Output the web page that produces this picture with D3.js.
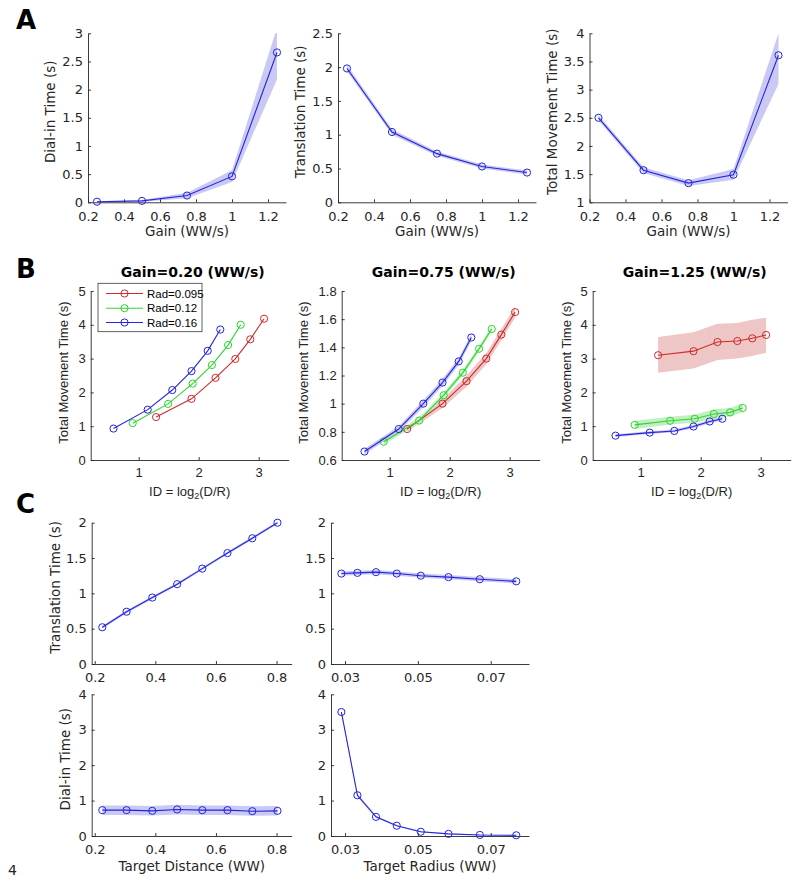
<!DOCTYPE html>
<html>
<head>
<meta charset="utf-8">
<script src="https://cdn.jsdelivr.net/npm/d3@7"></script>
<style>
  html, body { margin: 0; padding: 0; background: #fff; }
  svg { display: block; }
</style>
</head>
<body>
<script>
// ---------------- DATA ----------------
// Row A: effect of gain
const gain = [0.25, 0.5, 0.75, 1.0, 1.25];
const dialInMean = [0.01, 0.025, 0.12, 0.46, 2.66];
const dialInLo   = [0.0, 0.01, 0.07, 0.36, 2.18];
const dialInHi   = [0.02, 0.04, 0.17, 0.57, 3.1];
const transMean  = [1.98, 1.04, 0.72, 0.53, 0.44];
const transLo    = [1.94, 1.00, 0.69, 0.50, 0.41];
const transHi    = [2.03, 1.08, 0.75, 0.56, 0.47];
const totalMean  = [2.50, 1.57, 1.34, 1.49, 3.61];
const totalLo    = [2.45, 1.52, 1.29, 1.40, 3.10];
const totalHi    = [2.55, 1.62, 1.39, 1.59, 4.00];
const gainTicks = [0.2, 0.4, 0.6, 0.8, 1, 1.2];

// Row B: ID per radius
const legendLabels = ["Rad=0.095", "Rad=0.12", "Rad=0.16"];
const gainTitles = ["Gain=0.20 (WW/s)", "Gain=0.75 (WW/s)", "Gain=1.25 (WW/s)"];
const idRad095 = [1.29, 1.88, 2.28, 2.61, 2.86, 3.09];
const idRad12  = [0.90, 1.49, 1.90, 2.22, 2.49, 2.70];
const idRad16  = [0.58, 1.15, 1.56, 1.88, 2.15, 2.36];
const idTicks = [1, 2, 3];

const g020Rad095 = [1.27, 1.81, 2.43, 2.99, 3.57, 4.18];
const g020Rad12  = [1.09, 1.66, 2.26, 2.81, 3.40, 4.00];
const g020Rad16  = [0.93, 1.49, 2.07, 2.63, 3.23, 3.86];

const g075Rad095   = [0.82, 1.00, 1.16, 1.32, 1.49, 1.65];
const g075Rad095Lo = [0.80, 0.97, 1.12, 1.28, 1.45, 1.61];
const g075Rad095Hi = [0.84, 1.03, 1.20, 1.36, 1.53, 1.69];
const g075Rad12    = [0.73, 0.88, 1.06, 1.22, 1.39, 1.53];
const g075Rad12Lo  = [0.71, 0.86, 1.04, 1.20, 1.37, 1.51];
const g075Rad12Hi  = [0.75, 0.90, 1.08, 1.24, 1.41, 1.55];
const g075Rad16    = [0.66, 0.82, 1.00, 1.15, 1.30, 1.47];
const g075Rad16Lo  = [0.64, 0.80, 0.975, 1.125, 1.275, 1.445];
const g075Rad16Hi  = [0.68, 0.84, 1.025, 1.175, 1.325, 1.495];

const g125Rad095   = [3.10, 3.22, 3.49, 3.52, 3.60, 3.70];
const g125Rad095Lo = [2.58, 2.71, 2.96, 3.00, 3.08, 3.17];
const g125Rad095Hi = [3.64, 3.78, 4.03, 4.05, 4.15, 4.21];
const g125Rad12    = [1.04, 1.16, 1.22, 1.36, 1.41, 1.54];
const g125Rad12Lo  = [0.92, 1.05, 1.10, 1.22, 1.29, 1.41];
const g125Rad12Hi  = [1.16, 1.28, 1.34, 1.50, 1.54, 1.67];
const g125Rad16    = [0.72, 0.81, 0.86, 0.99, 1.14, 1.22];
const g125Rad16Lo  = [0.68, 0.77, 0.82, 0.94, 1.09, 1.17];
const g125Rad16Hi  = [0.76, 0.85, 0.90, 1.04, 1.19, 1.27];

// Row C: distance / radius
const targetDist  = [0.225, 0.305, 0.39, 0.472, 0.555, 0.638, 0.72, 0.803];
const transByDist   = [0.52, 0.74, 0.94, 1.13, 1.35, 1.57, 1.78, 2.00];
const transByDistLo = [0.50, 0.72, 0.92, 1.11, 1.33, 1.55, 1.76, 1.98];
const transByDistHi = [0.54, 0.76, 0.96, 1.15, 1.37, 1.59, 1.80, 2.02];
const dialByDist    = [0.73, 0.73, 0.71, 0.75, 0.73, 0.73, 0.70, 0.71];
const dialByDistLo  = [0.59, 0.59, 0.58, 0.61, 0.59, 0.59, 0.57, 0.58];
const dialByDistHi  = [0.86, 0.86, 0.85, 0.88, 0.86, 0.86, 0.84, 0.85];
const distTicks = [0.2, 0.4, 0.6, 0.8];

const targetRad = [0.029, 0.0334, 0.0385, 0.0442, 0.0508, 0.0584, 0.0670, 0.0770];
const transByRad   = [1.28, 1.29, 1.30, 1.28, 1.25, 1.23, 1.20, 1.17];
const transByRadLo = [1.25, 1.26, 1.27, 1.25, 1.22, 1.20, 1.17, 1.14];
const transByRadHi = [1.31, 1.32, 1.33, 1.31, 1.28, 1.26, 1.23, 1.20];
const dialByRad    = [3.50, 1.15, 0.54, 0.29, 0.12, 0.06, 0.03, 0.02];
const dialByRadLo  = [3.44, 1.10, 0.51, 0.27, 0.10, 0.05, 0.02, 0.01];
const dialByRadHi  = [3.56, 1.20, 0.57, 0.31, 0.14, 0.07, 0.04, 0.03];
const radTicks = [0.03, 0.05, 0.07];

// ---------------- STYLE ----------------
const BLUE = "#2424dc", RED = "#d02a2a", GREEN = "#2fd42f";
const BLUE_BAND = "#c9c9f3", RED_BAND = "#eec6c6", GREEN_BAND = "#c2efc2";
const AX = "#262626";
const VER = "'DejaVu Sans', Verdana, sans-serif";
const ARI = "'Liberation Sans', Arial, sans-serif";

const W = 800, H = 882;
const svg = d3.select("body").append("svg").attr("width", W).attr("height", H);

let clipId = 0;
function panel(c) {
  const x = d3.scaleLinear().domain(c.xDomain).range([c.left, c.left + c.width]);
  const y = d3.scaleLinear().domain(c.yDomain).range([c.bottom, c.top]);
  const g = svg.append("g");
  const id = "clip" + (clipId++);
  g.append("clipPath").attr("id", id).append("rect")
    .attr("x", c.left).attr("y", c.top).attr("width", c.width).attr("height", c.bottom - c.top);
  const bands = g.append("g").attr("clip-path", `url(#${id})`);

  c.series.forEach(s => {
    const pts = s.x.map((xv, i) => ({x: xv, y: s.y[i], lo: s.lo ? s.lo[i] : null, hi: s.hi ? s.hi[i] : null}));
    if (s.lo) {
      bands.append("path").datum(pts)
        .attr("d", d3.area().x(d => x(d.x)).y0(d => y(d.lo)).y1(d => y(d.hi)))
        .attr("fill", s.band).attr("stroke", "none");
    }
  });

  const fmt = d3.format("~g");
  const xa = g.append("g").attr("transform", `translate(0,${c.bottom})`)
    .call(d3.axisBottom(x).tickValues(c.xTicks).tickFormat(fmt).tickSizeInner(-3).tickSizeOuter(0).tickPadding(c.xPad));
  const ya = g.append("g").attr("transform", `translate(${c.left},0)`)
    .call(d3.axisLeft(y).tickValues(c.yTicks).tickFormat(fmt).tickSizeInner(-3).tickSizeOuter(0).tickPadding(5));
  [xa, ya].forEach(a => {
    a.select(".domain").attr("stroke", AX).attr("stroke-width", 0.9);
    a.selectAll(".tick line").attr("stroke", AX).attr("stroke-width", 0.9);
    a.selectAll(".tick text").attr("fill", AX).style("font-family", c.font).style("font-size", c.tickSize + "px");
  });

  c.series.forEach(s => {
    const pts = s.x.map((xv, i) => ({x: xv, y: s.y[i]}));
    g.append("path").datum(pts)
      .attr("d", d3.line().x(d => x(d.x)).y(d => y(d.y)))
      .attr("fill", "none").attr("stroke", s.color).attr("stroke-width", 1.1);
    g.selectAll(null).data(pts).enter().append("circle")
      .attr("cx", d => x(d.x)).attr("cy", d => y(d.y)).attr("r", 3.6)
      .attr("fill", "none").attr("stroke", s.color).attr("stroke-width", 1);
  });

  if (c.xLabel) {
    const t = g.append("text").attr("x", c.left + c.width / 2).attr("y", c.bottom + c.xLabelDy)
      .attr("text-anchor", "middle").attr("fill", AX)
      .style("font-family", c.font).style("font-size", c.labelSize + "px");
    c.xLabel(t);
  }
  if (c.yLabel) {
    const cy = (c.top + c.bottom) / 2 - c.yLabelShift;
    g.append("text").attr("transform", `translate(${c.left - c.yLabelDx},${cy}) rotate(-90)`)
      .attr("text-anchor", "middle").attr("fill", AX)
      .style("font-family", c.font).style("font-size", c.labelSize + "px")
      .text(c.yLabel);
  }
  if (c.title) {
    g.append("text").attr("x", c.left + c.width / 2 + 3).attr("y", c.top - 14)
      .attr("text-anchor", "middle").attr("fill", "#000")
      .style("font-family", VER).style("font-size", "14px").style("font-weight", "bold")
      .text(c.title);
  }
  return {x, y, g};
}

const gainLabel = t => t.text("Gain (WW/s)");
const idLabel = t => {
  t.append("tspan").text("ID = log");
  t.append("tspan").attr("font-size", "9px").attr("dy", 3).text("2");
  t.append("tspan").attr("dy", -3).text("(D/R)");
};

// ---------- Row A ----------
const aCommon = {top: 33.3, bottom: 202.3, width: 198, xDomain: [0.2, 1.3], xTicks: gainTicks,
  font: VER, tickSize: 13, labelSize: 13.5, xLabel: gainLabel, xLabelDy: 34, yLabelDx: 33, yLabelShift: 6, xPad: 9};
panel(Object.assign({}, aCommon, {left: 88, yDomain: [0, 3], yTicks: [0, 0.5, 1, 1.5, 2, 2.5, 3],
  yLabel: "Dial-in Time (s)",
  series: [{x: gain, y: dialInMean, lo: dialInLo, hi: dialInHi, color: BLUE, band: BLUE_BAND}]}));
panel(Object.assign({}, aCommon, {left: 338, yDomain: [0, 2.5], yTicks: [0, 0.5, 1, 1.5, 2, 2.5],
  yLabel: "Translation Time (s)",
  series: [{x: gain, y: transMean, lo: transLo, hi: transHi, color: BLUE, band: BLUE_BAND}]}));
panel(Object.assign({}, aCommon, {left: 589.5, yDomain: [1, 4], yTicks: [1, 1.5, 2, 2.5, 3, 3.5, 4],
  yLabel: "Total Movement Time (s)",
  series: [{x: gain, y: totalMean, lo: totalLo, hi: totalHi, color: BLUE, band: BLUE_BAND}]}));

// ---------- Row B ----------
const bCommon = {top: 291, bottom: 460, width: 198, xDomain: [0.2, 3.5], xTicks: idTicks,
  font: ARI, tickSize: 13, labelSize: 13, xLabel: idLabel, xLabelDy: 36, yLabelShift: 3, xPad: 8,
  yLabel: "Total Movement Time (s)"};
panel(Object.assign({}, bCommon, {left: 90.7, yDomain: [0, 5], yTicks: [0, 1, 2, 3, 4, 5],
  yLabelDx: 23, title: gainTitles[0],
  series: [
    {x: idRad095, y: g020Rad095, color: RED},
    {x: idRad12, y: g020Rad12, color: GREEN},
    {x: idRad16, y: g020Rad16, color: BLUE}]}));
panel(Object.assign({}, bCommon, {left: 341.7, yDomain: [0.6, 1.8], yTicks: [0.6, 0.8, 1, 1.2, 1.4, 1.6, 1.8],
  yLabelDx: 34, title: gainTitles[1],
  series: [
    {x: idRad095, y: g075Rad095, lo: g075Rad095Lo, hi: g075Rad095Hi, color: RED, band: RED_BAND},
    {x: idRad12, y: g075Rad12, lo: g075Rad12Lo, hi: g075Rad12Hi, color: GREEN, band: GREEN_BAND},
    {x: idRad16, y: g075Rad16, lo: g075Rad16Lo, hi: g075Rad16Hi, color: BLUE, band: BLUE_BAND}]}));
panel(Object.assign({}, bCommon, {left: 592.7, yDomain: [0, 5], yTicks: [0, 1, 2, 3, 4, 5],
  yLabelDx: 22, title: gainTitles[2],
  series: [
    {x: idRad095, y: g125Rad095, lo: g125Rad095Lo, hi: g125Rad095Hi, color: RED, band: RED_BAND},
    {x: idRad12, y: g125Rad12, lo: g125Rad12Lo, hi: g125Rad12Hi, color: GREEN, band: GREEN_BAND},
    {x: idRad16, y: g125Rad16, lo: g125Rad16Lo, hi: g125Rad16Hi, color: BLUE, band: BLUE_BAND}]}));

// Legend in B1
{
  const colors = [RED, GREEN, BLUE];
  const lg = svg.append("g");
  lg.append("rect").attr("x", 98).attr("y", 283.3).attr("width", 104).attr("height", 48.4)
    .attr("fill", "#fff").attr("stroke", "#3a3a3a").attr("stroke-width", 0.8);
  const rows = [293.5, 308.2, 322.5];
  legendLabels.forEach((lab, i) => {
    lg.append("line").attr("x1", 106).attr("x2", 143).attr("y1", rows[i]).attr("y2", rows[i])
      .attr("stroke", colors[i]).attr("stroke-width", 1.1);
    lg.append("circle").attr("cx", 124.5).attr("cy", rows[i]).attr("r", 3.6)
      .attr("fill", "none").attr("stroke", colors[i]);
    lg.append("text").attr("x", 147).attr("y", rows[i] + 4).attr("fill", "#000")
      .style("font-family", ARI).style("font-size", "11.5px").text(lab);
  });
}

// ---------- Row C ----------
const cCommon = {font: VER, tickSize: 13, labelSize: 13.5, yLabelShift: 6, xPad: 9};
panel(Object.assign({}, cCommon, {left: 91.7, width: 200, top: 522.7, bottom: 664,
  xDomain: [0.19, 0.85], xTicks: distTicks, yDomain: [0, 2], yTicks: [0, 0.5, 1, 1.5, 2],
  yLabel: "Translation Time (s)", yLabelDx: 32,
  series: [{x: targetDist, y: transByDist, lo: transByDistLo, hi: transByDistHi, color: BLUE, band: BLUE_BAND}]}));
panel(Object.assign({}, cCommon, {left: 331, width: 198, top: 522.7, bottom: 664,
  xDomain: [0.02615, 0.0805], xTicks: radTicks, yDomain: [0, 2], yTicks: [0, 0.5, 1, 1.5, 2],
  series: [{x: targetRad, y: transByRad, lo: transByRadLo, hi: transByRadHi, color: BLUE, band: BLUE_BAND}]}));
panel(Object.assign({}, cCommon, {left: 91.7, width: 200, top: 694.3, bottom: 836,
  xDomain: [0.19, 0.85], xTicks: distTicks, yDomain: [0, 4], yTicks: [0, 1, 2, 3, 4],
  yLabel: "Dial-in Time (s)", yLabelDx: 22,
  xLabel: t => t.text("Target Distance (WW)"), xLabelDy: 35,
  series: [{x: targetDist, y: dialByDist, lo: dialByDistLo, hi: dialByDistHi, color: BLUE, band: BLUE_BAND}]}));
panel(Object.assign({}, cCommon, {left: 331, width: 198, top: 694.3, bottom: 836,
  xDomain: [0.02615, 0.0805], xTicks: radTicks, yDomain: [0, 4], yTicks: [0, 1, 2, 3, 4],
  xLabel: t => t.text("Target Radius (WW)"), xLabelDy: 35,
  series: [{x: targetRad, y: dialByRad, lo: dialByRadLo, hi: dialByRadHi, color: BLUE, band: BLUE_BAND}]}));

// ---------- Panel letters & page number ----------
const letters = [{t: "A", x: 16, y: 29}, {t: "B", x: 16, y: 277.5}, {t: "C", x: 16, y: 512.5}];
letters.forEach(l => svg.append("text").attr("x", l.x).attr("y", l.y).attr("fill", "#000")
  .style("font-family", VER).style("font-size", "26px").style("font-weight", "bold").text(l.t));
svg.append("text").attr("x", 8).attr("y", 875).attr("fill", "#222")
  .style("font-family", VER).style("font-size", "14px").text("4");
</script>
</body>
</html>
